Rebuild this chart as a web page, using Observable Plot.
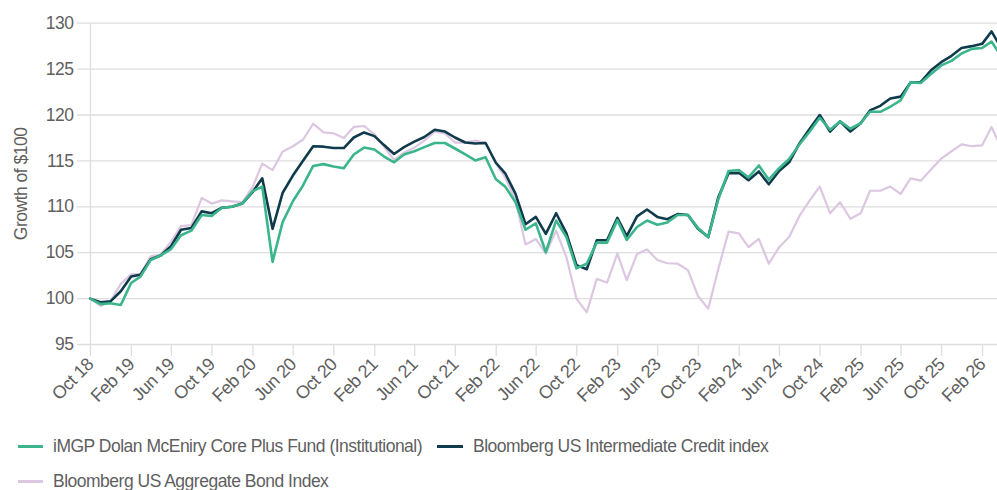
<!DOCTYPE html>
<html>
<head>
<meta charset="utf-8">
<script src="https://cdn.jsdelivr.net/npm/d3@7"></script>
<script src="https://cdn.jsdelivr.net/npm/@observablehq/plot@0.6"></script>
<style>
  body { margin: 0; background: #fff; font-family: "Liberation Sans", Arial, sans-serif; }
  #chart { position: relative; width: 997px; }
  #legend { position: relative; width: 997px; height: 70px; color: #5f5f5f; font-size: 17.5px; letter-spacing: -0.5px; }
  .item { position: absolute; display: flex; align-items: center; height: 22px; white-space: nowrap; }
  .sw { height: 3px; margin-right: 10px; }
</style>
</head>
<body>
<div id="chart"></div>
<div id="legend"></div>
<script>
// Series names
const seriesNames = [
  "iMGP Dolan McEniry Core Plus Fund (Institutional)",
  "Bloomberg US Intermediate Credit index",
  "Bloomberg US Aggregate Bond Index"
];

// Month-end values, Sep 30 2018 (=100) through Mar 31 2026
const fund = [
  100, 99.4, 99.5, 99.3, 101.7, 102.4, 104.2, 104.7, 105.4, 106.9,
  107.4, 109.1, 109.0, 109.9, 110.0, 110.35, 111.7, 112.2, 104.0, 108.3,
  110.6, 112.3, 114.45, 114.65, 114.4, 114.2, 115.7, 116.45, 116.25, 115.5,
  114.85, 115.7, 116.05, 116.5, 116.95, 116.95, 116.35, 115.7, 115.05, 115.4,
  113.0, 112.2, 110.5, 107.5, 108.2, 105.05, 108.5, 106.7, 103.3, 103.8,
  106.1, 106.1, 108.55, 106.4, 107.8, 108.5, 108.05, 108.3, 109.1, 109.1,
  107.7, 106.7, 110.8, 113.9, 114.0, 113.2, 114.5, 112.95, 114.2, 115.2,
  116.8, 118.2, 119.7, 118.4, 119.3, 118.5, 119.1, 120.35, 120.35, 120.9,
  121.6, 123.55, 123.5, 124.5, 125.4, 125.9, 126.7, 127.2, 127.3, 128.0,
  126.3
];
const credit = [
  100, 99.6, 99.7, 100.8, 102.4, 102.6, 104.3, 104.7, 105.7, 107.5,
  107.7, 109.5, 109.3, 109.9, 110.0, 110.35, 111.6, 113.1, 107.6, 111.5,
  113.4, 115.0, 116.6, 116.55, 116.4, 116.4, 117.55, 118.1, 117.7, 116.75,
  115.75, 116.5, 117.1, 117.6, 118.4, 118.2, 117.55, 117.0, 116.9, 116.95,
  114.8, 113.65, 111.4, 108.1, 108.9, 107.05, 109.3, 107.1, 103.65, 103.2,
  106.35, 106.35, 108.8, 106.8, 108.95, 109.7, 108.9, 108.65, 109.2, 109.1,
  107.6, 106.7, 111.0, 113.65, 113.7, 112.9, 113.85, 112.45, 113.9, 114.85,
  116.9, 118.5, 120.0, 118.2, 119.3, 118.2, 119.1, 120.5, 121.0, 121.8,
  122.0, 123.55, 123.6, 124.9, 125.75, 126.45, 127.3, 127.5, 127.75, 129.1,
  127.2
];
const agg = [
  100, 99.2, 99.7, 101.6, 102.65, 102.7, 104.6, 104.8, 106.2, 107.9,
  108.0, 110.95, 110.35, 110.7, 110.6, 110.5, 112.15, 114.7, 114.0, 116.0,
  116.6, 117.3, 119.05, 118.1, 118.0, 117.5, 118.7, 118.8, 117.9, 116.6,
  115.1, 115.9, 116.45, 117.2, 118.2, 118.0, 117.0, 117.0, 117.2, 117.0,
  114.7, 113.2, 110.7, 105.9, 106.5, 104.9, 107.4, 104.5, 100.0, 98.5,
  102.15, 101.75, 104.9, 102.0, 104.85, 105.35, 104.2, 103.85, 103.8, 103.1,
  100.3, 98.9, 103.2, 107.3, 107.1, 105.6, 106.5, 103.8, 105.6, 106.7,
  109.0, 110.7, 112.2, 109.3, 110.5, 108.7, 109.3, 111.75, 111.75, 112.2,
  111.4, 113.1, 112.85, 114.1, 115.25, 116.05, 116.8, 116.6, 116.7, 118.7,
  116.3
];

// Tick values
const yTicks = [95, 100, 105, 110, 115, 120, 125, 130];
const xTickStart = new Date(Date.UTC(2018, 9, 1));
const xTickEnd = new Date(Date.UTC(2026, 1, 1));
const xTicks = d3.utcMonth.range(xTickStart, d3.utcDay.offset(xTickEnd, 1), 4);

const colors = ["#3bb58c", "#0f3b4c", "#dcc6e1"];

// Month-end dates
const dates = d3.utcMonth.range(new Date(Date.UTC(2018, 9, 1)), new Date(Date.UTC(2026, 3, 2)))
  .map(d => d3.utcDay.offset(d, -1));

const mk = (vals) => vals.map((v, i) => ({date: dates[i], value: v}));

const chart = Plot.plot({
  width: 997,
  height: 420,
  marginLeft: 77,
  marginRight: 0,
  marginTop: 22.7,
  marginBottom: 76,
  style: {
    fontFamily: "'Liberation Sans', Arial, sans-serif",
    fontSize: "17.5px",
    color: "#5f5f5f",
    overflow: "hidden",
    letterSpacing: "-0.5px",
    background: "#fff"
  },
  x: {type: "utc", domain: [xTickStart, xTickEnd], range: [90, 982]},
  y: {domain: [95, 130]},
  marks: [
    Plot.gridY(yTicks, {stroke: "#dedede", strokeOpacity: 1, strokeWidth: 1.3}),
    Plot.ruleX([xTickStart], {stroke: "#dedede", strokeWidth: 1.3}),
    Plot.axisY(yTicks, {
      tickSize: 0, tickPadding: 4, fill: "#5f5f5f",
      label: "Growth of $100", labelAnchor: "center", labelArrow: "none", labelOffset: 63
    }),
    Plot.axisX(xTicks, {
      tickFormat: d3.utcFormat("%b %y"), tickRotate: -45, tickSize: 12, tickPadding: 5,
      fontSize: 18, stroke: "#dedede", strokeWidth: 1.3, fill: "#5f5f5f", label: null
    }),
    Plot.line(mk(agg), {x: "date", y: "value", stroke: colors[2], strokeWidth: 2.2}),
    Plot.line(mk(credit), {x: "date", y: "value", stroke: colors[1], strokeWidth: 2.6}),
    Plot.line(mk(fund), {x: "date", y: "value", stroke: colors[0], strokeWidth: 2.6})
  ]
});
document.getElementById("chart").appendChild(chart);

// Legend
const legendItems = [
  {name: seriesNames[0], color: colors[0], left: 18, top: 15, sw: 25},
  {name: seriesNames[1], color: colors[1], left: 437, top: 15, sw: 26},
  {name: seriesNames[2], color: colors[2], left: 18, top: 50.7, sw: 25}
];
const legend = document.getElementById("legend");
for (const it of legendItems) {
  const div = document.createElement("div");
  div.className = "item";
  div.style.left = it.left + "px";
  div.style.top = it.top + "px";
  const sw = document.createElement("span");
  sw.className = "sw";
  sw.style.width = it.sw + "px";
  sw.style.background = it.color;
  const tx = document.createElement("span");
  tx.textContent = it.name;
  div.appendChild(sw);
  div.appendChild(tx);
  legend.appendChild(div);
}
</script>
</body>
</html>
